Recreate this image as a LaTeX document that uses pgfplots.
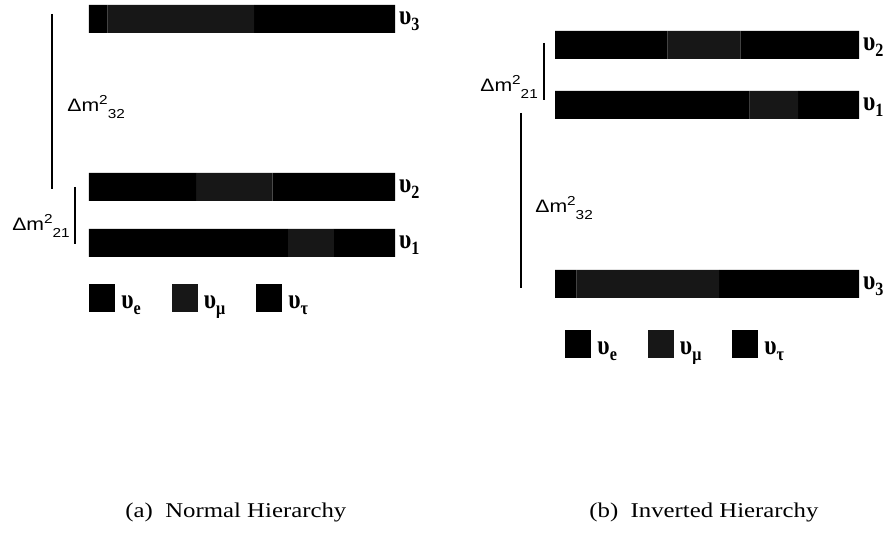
\documentclass[border=0pt]{standalone}
\usepackage{fontspec}
\setmainfont{Liberation Serif}
\newfontfamily\arial{Liberation Sans}
\usepackage{pgfplots}
\pgfplotsset{compat=1.18}

\newcommand\wide[1]{\scalebox{1.18}[1]{#1}}
\newcommand\nulab[1]{\scalebox{0.95}[1.1]{\fontsize{12.5}{13}\selectfont\bfseries υ\raisebox{-0.5ex}{\fontsize{8.5}{9}\selectfont #1}}}
\newcommand\dm[1]{\wide{\arial\fontsize{9}{10}\selectfont Δm\raisebox{0.75ex}{\fontsize{6.5}{7}\selectfont 2}\raisebox{-0.7ex}{\fontsize{6.5}{7}\selectfont #1}}}

\colorlet{nue}{black}
\colorlet{numu}{black!91}
\colorlet{nutau}{black}

\tikzset{gap/.style={black, line width=1.4pt}}

\pgfplotsset{
  levels/.style={
    anchor=south west, hide axis, clip=false,
    y=0.5pt, xmin=0, xmax=1, ymin=0, ymax=541,
    enlargelimits=false,
    xbar stacked, bar width=14pt,
    legend columns=3,
    legend image code/.code={\fill[##1, draw=none] (0pt,-2pt) rectangle (13pt,12pt);},
    legend style={draw=none, fill=none, inner sep=0pt, anchor=north west,
      nodes={inner sep=1.5pt, anchor=base west},
      /tikz/every odd column/.append style={column sep=1.5pt},
      /tikz/every even column/.append style={column sep=14pt},
      font=\fontsize{12}{13}\selectfont},
  },
  mixing/.style={fill=#1, draw=none},
}

\pgfplotstableread{
y    e     mu    tau
522  0.06  0.48  0.46
354  0.35  0.25  0.40
298  0.65  0.15  0.20
}\normaltab

\pgfplotstableread{
y    e     mu    tau
496  0.37  0.24  0.39
436  0.64  0.16  0.20
257  0.07  0.47  0.46
}\invertedtab

\begin{document}
\begin{tikzpicture}
\useasboundingbox (0,0) rectangle (442.5pt,270.5pt);

% (a) normal hierarchy
\begin{axis}[levels, at={(44.5pt,0pt)}, x=153pt,
  legend style={at={(0,0.475)}}]
  \addplot[mixing=nue]   table[x=e,   y=y] {\normaltab};
  \addplot[mixing=numu]  table[x=mu,  y=y] {\normaltab};
  \addplot[mixing=nutau] table[x=tau, y=y] {\normaltab};
  \legend{\nulab{e}, \nulab{μ}, \nulab{τ}}
  \draw[gap] (axis cs:-0.121,527) -- (axis cs:-0.121,352);
  \draw[gap] (axis cs:-0.046,354) -- (axis cs:-0.046,297);
  \node[anchor=west, inner sep=0pt] at (axis cs:-0.072,434) {\dm{32}};
  \node[anchor=west, inner sep=0pt] at (axis cs:-0.252,315) {\dm{21}};
  \node[anchor=west, inner sep=0pt] at (axis cs:1.012,520) {\nulab{3}};
  \node[anchor=west, inner sep=0pt] at (axis cs:1.012,352) {\nulab{2}};
  \node[anchor=west, inner sep=0pt] at (axis cs:1.012,296) {\nulab{1}};
  \node[anchor=base] at (axis cs:0.48,23) {\wide{\fontsize{10.5}{12}\selectfont (a)\ \ Normal Hierarchy}};
\end{axis}

% (b) inverted hierarchy
\begin{axis}[levels, at={(277.5pt,0pt)}, x=152pt,
  legend style={at={(0.033,0.39)}}]
  \addplot[mixing=nue]   table[x=e,   y=y] {\invertedtab};
  \addplot[mixing=numu]  table[x=mu,  y=y] {\invertedtab};
  \addplot[mixing=nutau] table[x=tau, y=y] {\invertedtab};
  \legend{\nulab{e}, \nulab{μ}, \nulab{τ}}
  \draw[gap] (axis cs:-0.036,498) -- (axis cs:-0.036,441);
  \draw[gap] (axis cs:-0.112,428) -- (axis cs:-0.112,253);
  \node[anchor=west, inner sep=0pt] at (axis cs:-0.247,454) {\dm{21}};
  \node[anchor=west, inner sep=0pt] at (axis cs:-0.066,333) {\dm{32}};
  \node[anchor=west, inner sep=0pt] at (axis cs:1.012,494) {\nulab{2}};
  \node[anchor=west, inner sep=0pt] at (axis cs:1.012,434) {\nulab{1}};
  \node[anchor=west, inner sep=0pt] at (axis cs:1.012,255) {\nulab{3}};
  \node[anchor=base] at (axis cs:0.49,23) {\wide{\fontsize{10.5}{12}\selectfont (b)\ \ Inverted Hierarchy}};
\end{axis}
\end{tikzpicture}
\end{document}
